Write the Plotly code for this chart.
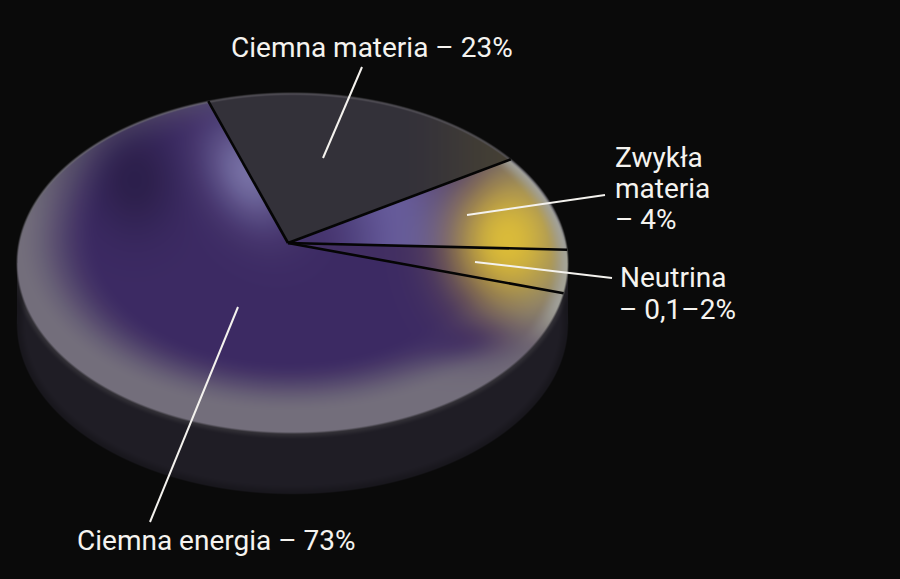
import numpy as np
import plotly.graph_objects as go

# Slices clockwise, from the left edge of "Ciemna materia". Shares (%)
slice_names = ["Ciemna materia", "Zwykła materia", "Neutrina", "Ciemna energia"]
slice_shares = [19.5, 9.2, 4.1, 67.2]
slice_colors = ["rgba(52,50,58,0.35)", "rgba(110,100,150,0.04)", "rgba(190,160,70,0.04)", "rgba(61,42,99,0.04)"]

label_lines = ["Ciemna materia – 23%", "Ciemna energia – 73%", "Zwykła", "materia", "– 4%", "Neutrina", "– 0,1–2%"]
label_x = [229, 75, 613, 613, 613, 618, 617]
label_y = [47, 540, 157, 188, 219, 277, 309]

leader_x = [[362, 323], [238, 150], [605, 467], [612, 475]]
leader_y = [[67, 158], [307, 522], [195, 215], [278, 262]]

W, H = 900, 579
BG = (10, 10, 10)
cx, cy, a, b = 292.5, 263.0, 275.5, 170.0
hub_x, hub_y = 288.0, 243.0
start_angle = 107.8
wall_h = 61.0


def smooth(e0, e1, v):
    t = np.clip((v - e0) / (e1 - e0), 0, 1)
    return t * t * (3 - 2 * t)


def mix(c0, c1, t):
    c0 = np.asarray(c0, dtype=float)
    c1 = np.asarray(c1, dtype=float)
    return c0 * (1 - t[..., None]) + c1 * t[..., None]


def rim_point(deg):
    t = np.radians(deg)
    return cx + a * np.cos(t), cy - b * np.sin(t)


def edge_dist(X, Y, y0):
    # signed distance to the ellipse, approx, positive inside
    dx, dy = X - cx, Y - y0
    r = np.sqrt((dx / a) ** 2 + (dy / b) ** 2) + 1e-6
    g = np.sqrt((dx / a**2) ** 2 + (dy / b**2) ** 2) / r + 1e-6
    return (1 - r) / g, r


# slice boundaries along the rim
edges = start_angle - np.cumsum([0] + slice_shares) * 3.6
spoke_ends = [rim_point(e) for e in edges[:4]]
spoke_theta = [np.arctan2(hub_y - py, px - hub_x) for px, py in spoke_ends]

# soft shading of the disc
X, Y = np.meshgrid(np.arange(W) + 0.5, np.arange(H) + 0.5)
d_top, r_top = edge_dist(X, Y, cy)
d_low, _ = edge_dist(X, Y, cy + wall_h)
theta = np.arctan2(hub_y - Y, X - hub_x)
dist = np.hypot(X - hub_x, Y - hub_y)

R = np.sqrt(((X - 290) / 265) ** 2 + ((Y - 240) / 168) ** 2)
gray = mix((118, 113, 124), (92, 88, 106), 1 - smooth(120, 230, Y))
col = mix(gray, (61, 42, 99), 1 - smooth(0.72, 1.03, R))

# dark patch upper left
patch = np.exp(-(((X - 135) / 42) ** 2 + ((Y - 180) / 52) ** 2))
col = mix(col, (42, 30, 72), patch * 0.9)

# lilac along the left spoke
sx, sy = spoke_ends[0][0] - hub_x, spoke_ends[0][1] - hub_y
sl = np.hypot(sx, sy)
along = ((X - hub_x) * sx + (Y - hub_y) * sy) / sl
across = np.abs((X - hub_x) * sy - (Y - hub_y) * sx) / sl
col = mix(col, (124, 118, 170), np.exp(-((across / 38) ** 2)) * np.exp(-(((along - 80) / 55) ** 2)) * 0.95)

# purple lobe below the yellow
col = mix(col, (61, 42, 99), np.exp(-(((X - 465) / 58) ** 2 + ((Y - 335) / 26) ** 2)) * 0.95)

# lilac in the ordinary matter slice
in_ord = smooth(-0.01, 0.01, theta - spoke_theta[2]) * smooth(-0.01, 0.01, spoke_theta[1] - theta)
col = mix(col, (105, 95, 160), in_ord * np.exp(-(((dist - 115) / 60) ** 2)) * 0.9)

# yellow glow
q = ((X - 508) / 58) ** 2 + ((Y - 240) / 70) ** 2
col = mix(col, (222, 190, 55), np.exp(-(q**1.15)))

# pale right rim
col = mix(col, (165, 165, 155), smooth(0.93, 1.0, r_top) * smooth(400, 500, X) * (1 - smooth(300, 350, Y)))

# dark slice
dark = mix((52, 50, 58), (78, 72, 50), smooth(400, 515, X))
in_dark = smooth(-0.006, 0.006, theta - spoke_theta[1]) * smooth(-0.006, 0.006, spoke_theta[0] - theta)
col = mix(col, dark, in_dark)

# thin highlight on the far rim
col = mix(col, (112, 110, 116), (1 - smooth(0.5, 3.0, d_top)) * (1 - smooth(cy - 60, cy, Y)) * 0.8)

# side wall
wall_mask = np.maximum(smooth(-1, 1, d_low), (np.abs(X - cx) < a) * (Y > cy) * (Y < cy + wall_h))
wall = mix((31, 29, 37), (50, 48, 54), 1 - smooth(0, 7, -d_top))
wall = mix(wall, (17, 16, 20), (1 - smooth(0, 10, d_low)) * 0.5)

img = np.tile(np.array(BG, dtype=float), (H, W, 1))
img = img * (1 - wall_mask[..., None]) + wall * wall_mask[..., None]
top_alpha = smooth(-1.5, 1.5, d_top)
img = img * (1 - top_alpha[..., None]) + col * top_alpha[..., None]

fig = go.Figure()
fig.add_trace(go.Image(z=img.round().astype(np.uint8).tolist(), x0=0.5, y0=0.5, dx=1, dy=1, hoverinfo="skip"))

# wedges from the shares
for i, name in enumerate(slice_names):
    arc = np.radians(np.linspace(edges[i], edges[i + 1], 120))
    wx = [hub_x] + list(cx + a * np.cos(arc)) + [hub_x]
    wy = [hub_y] + list(cy - b * np.sin(arc)) + [hub_y]
    fig.add_trace(go.Scatter(x=wx, y=wy, mode="lines", name=name, fill="toself",
                             fillcolor=slice_colors[i], line=dict(width=0), hoverinfo="name"))

# black spokes
for px, py in spoke_ends:
    fig.add_trace(go.Scatter(x=[hub_x, px], y=[hub_y, py], mode="lines",
                             line=dict(color="#050505", width=2.6), hoverinfo="skip"))

# leader lines
for lx, ly in zip(leader_x, leader_y):
    fig.add_trace(go.Scatter(x=lx, y=ly, mode="lines", line=dict(color="#f4f2ee", width=2), hoverinfo="skip"))

for text, x, y in zip(label_lines, label_x, label_y):
    fig.add_annotation(x=x, y=y, text=text, showarrow=False, xanchor="left", yanchor="middle",
                       font=dict(family="Roboto", size=28, color="#f5f3ef"))

fig.update_layout(
    width=900, height=579, margin=dict(l=0, r=0, t=0, b=0),
    paper_bgcolor="#0a0a0a", plot_bgcolor="#0a0a0a", showlegend=False,
    xaxis=dict(range=[0, W], visible=False, fixedrange=True),
    yaxis=dict(range=[H, 0], visible=False, fixedrange=True),
)
fig.write_html("out.html", config={"displayModeBar": False},
               post_script="document.body.style.margin='0';document.body.style.background='#0a0a0a';document.body.style.overflow='hidden';")
